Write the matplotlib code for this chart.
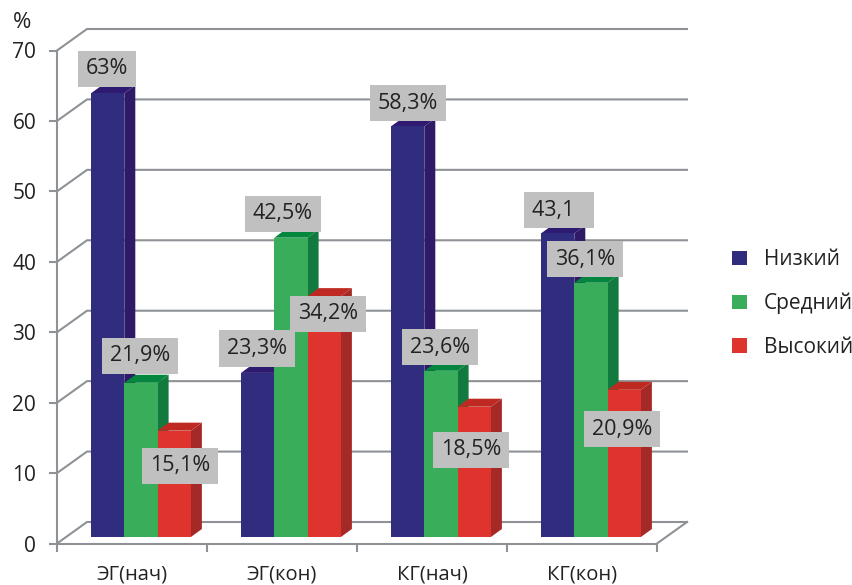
import matplotlib
matplotlib.use("Agg")
import matplotlib.pyplot as plt
from matplotlib.patches import Polygon, Patch

plt.rcParams['font.family'] = ['Open Sans', 'DejaVu Sans']

categories = ['ЭГ(нач)', 'ЭГ(кон)', 'КГ(нач)', 'КГ(кон)']
series_names = ['Низкий', 'Средний', 'Высокий']
low = [63, 23.3, 58.3, 43.1]
mid = [21.9, 42.5, 23.6, 36.1]
high = [15.1, 34.2, 18.5, 20.9]
low_labels = ['63%', '23,3%', '58,3%', '43,1  ']
mid_labels = ['21,9%', '42,5%', '23,6%', '36,1%']
high_labels = ['15,1%', '34,2%', '18,5%', '20,9%']
y_ticks = [0, 10, 20, 30, 40, 50, 60, 70]

W, H, DPI = 853, 585, 100
L, R, B, T = 57, 657, 543.5, 50.5
PX = 4 / (R - L)            # data x per pixel
PY = 70 / (B - T)           # data y per pixel

front = ['#302D7E', '#3AAD5A', '#DF332E']
side = ['#2E1A66', '#12793F', '#A52A27']
top = ['#2E1A70', '#05863F', '#BE2A22']
grid = '#8E9296'
box = '#C0C0C0'
ink = '#222222'

# label centres in pixels from the top-left corner, per series and group
low_centres = [(107, 69), (257, 348.5), (408, 103), (559, 210)]
mid_centres = [(140, 356), (283, 214), (440, 347), (585, 259)]
high_centres = [(180, 466), (328, 314), (471, 450), (622, 429)]

fig = plt.figure(figsize=(W / DPI, H / DPI), dpi=DPI, facecolor='white')
ax = fig.add_axes([L / W, 1 - B / H, (R - L) / W, (B - T) / H])
ax.set_xlim(0, 4)
ax.set_ylim(0, 70)
ax.patch.set_alpha(0)

for s in ['top', 'right']:
    ax.spines[s].set_visible(False)
for s in ['left', 'bottom']:
    ax.spines[s].set_color(grid)
    ax.spines[s].set_linewidth(1.5)

# walls
wx, wy = 30 * PX, 21.5 * PY
for v in y_ticks:
    ax.plot([0, wx, 4 + wx], [v, v + wy, v + wy], color=grid, lw=1.5,
            clip_on=False, zorder=1, solid_joinstyle='miter')
ax.plot([4, 4 + wx], [0, wy], color=grid, lw=1.5, clip_on=False, zorder=1)

# bars
bw = 33.3 * PX
x0 = 34 * PX
base = 6.5 * PY
dx, dy = 11 * PX, 8 * PY
z = 2
for g in range(len(categories)):
    for k, vals in enumerate([low, mid, high]):
        x = g + x0 + k * bw
        v = vals[g] + base
        ax.add_patch(Polygon([(x + bw, base), (x + bw + dx, base + dy),
                              (x + bw + dx, v + dy), (x + bw, v)],
                             closed=True, fc=side[k], ec='none', zorder=z, clip_on=False))
        ax.add_patch(Polygon([(x, v), (x + dx, v + dy), (x + bw + dx, v + dy), (x + bw, v)],
                             closed=True, fc=top[k], ec='none', zorder=z, clip_on=False))
        ax.bar(x, vals[g], width=bw, bottom=base, align='edge', color=front[k],
               zorder=z + 0.1, clip_on=False)
        z += 0.5

# axes
ax.set_yticks(y_ticks)
ax.set_xticks(range(5))
ax.set_xticklabels([])
ax.set_xticks([i + 0.5 for i in range(4)], labels=categories, minor=True)
ax.tick_params(axis='y', length=6, width=1.5, color=grid, labelsize=15,
               labelcolor=ink, pad=9)
ax.tick_params(axis='x', which='major', length=6, width=1.5, color=grid)
ax.tick_params(axis='x', which='minor', length=0, labelsize=14.5, labelcolor=ink, pad=15)
ax.text(22 / W, 1 - 22 / H, '%', transform=fig.transFigure, ha='center', va='center',
        fontsize=16, color=ink)

# data labels
for labels, centres in [(low_labels, low_centres), (mid_labels, mid_centres),
                        (high_labels, high_centres)]:
    for t, (cx, cy) in zip(labels, centres):
        fig.text(cx / W, 1 - cy / H, t, ha='center', va='center', fontsize=15.5,
                 color=ink, zorder=50,
                 bbox=dict(boxstyle='square,pad=0.36', fc=box, ec='none'))

# legend
handles = [Patch(fc=c, ec='none') for c in front]
fig.legend(handles, series_names, loc='upper left',
           bbox_to_anchor=(726 / W, 1 - 243 / H), frameon=False, fontsize=15,
           labelcolor=ink, handlelength=0.72, handleheight=0.72, handletextpad=0.8,
           labelspacing=1.08, borderpad=0.3, borderaxespad=0)

fig.savefig('out.png', dpi=DPI)
